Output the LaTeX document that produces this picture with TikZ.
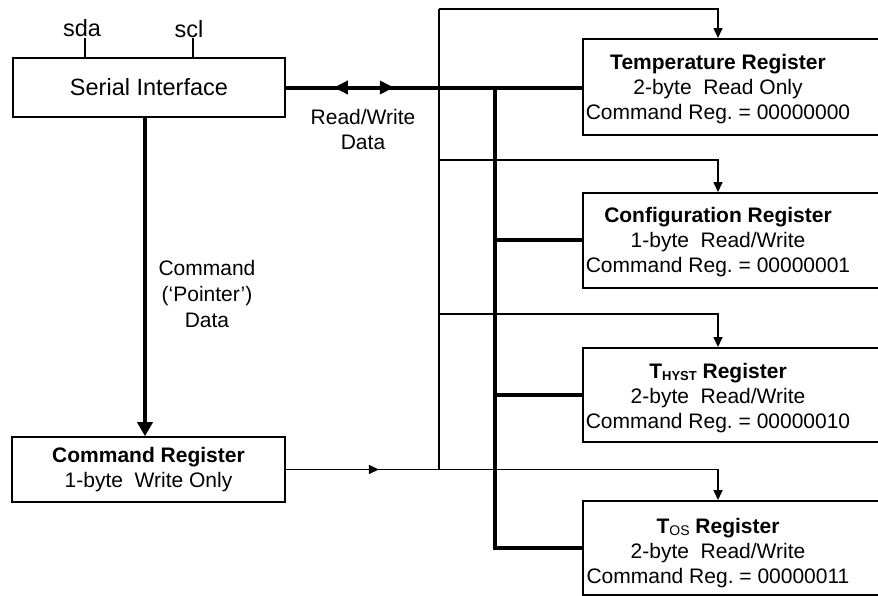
\documentclass[tikz,border=0pt]{standalone}
\usepackage{fontspec}
\setmainfont{Liberation Sans}
\usetikzlibrary{arrows.meta,decorations.markings,calc}
\begin{document}
\begin{tikzpicture}[x=1pt,y=-1pt,
  every node/.style={font=\fontsize{21}{25}\selectfont\frenchspacing, inner sep=0pt},
  bigfont/.style={font=\fontsize{23.5}{28}\selectfont},
  boxline/.style={draw=black, line width=1.6pt},
  thinline/.style={line width=1.6pt, line join=miter},
  thickline/.style={line width=4pt, line join=miter},
  thinhead/.style={-{Triangle[length=10pt,width=9pt]}},
  thickhead/.style={-{Triangle[length=14pt,width=15pt]}},
  regbox/.style={boxline, anchor=north west, minimum width=330pt},
  regtext/.style={align=center}
]
\useasboundingbox (0,0) rectangle (878,595);
\clip (0,0) rectangle (878,595);

% left boxes
\node[boxline, minimum width=272pt, minimum height=59pt, bigfont] (SI) at (149,87.5) {Serial Interface};
\node[boxline, minimum width=273pt, minimum height=65pt, align=center] (CR) at (148.5,469.5) {\textbf{Command Register}\\1-byte\ \ Write Only};

% register boxes
\node[regbox, minimum height=96pt] (tempbox) at (582,38) {};
\node[regbox, minimum height=95pt] (cfgbox) at (582,192) {};
\node[regbox, minimum height=94pt] (thystbox) at (582,347) {};
\node[regbox, minimum height=94pt] (tosbox) at (582,500) {};

\node[regtext] (temptext) at ([shift={(136,2)}]tempbox.west) {\textbf{Temperature Register}\\2-byte\ \ Read Only\\Command Reg. = 00000000};
\node[regtext] (cfgtext) at ([shift={(136,2)}]cfgbox.west) {\textbf{Configuration Register}\\1-byte\ \ Read/Write\\Command Reg. = 00000001};
\node[regtext] (thysttext) at ([shift={(136,3)}]thystbox.west) {\textbf{T\raisebox{-2.5pt}{\fontsize{13}{13}\selectfont HYST} Register}\\2-byte\ \ Read/Write\\Command Reg. = 00000010};
\node[regtext] (tostext) at ([shift={(136,5)}]tosbox.west) {\textbf{T}\raisebox{-2.5pt}{\fontsize{14}{14}\selectfont OS}\textbf{ Register}\\2-byte\ \ Read/Write\\Command Reg. = 00000011};

% pins
\node[bigfont] (sda) at (82,28.5) {sda};
\node[bigfont] (scl) at (189,29.5) {scl};
\coordinate (sdapin) at (85,38);
\coordinate (sclpin) at (193,38);
\draw[thinline] (sdapin) -- (sdapin |- SI.north);
\draw[thinline] (sclpin) -- (sclpin |- SI.north);

% labels
\node[align=center] (rwlabel) at (363,129) {Read/Write\\Data};
\node[align=center, font=\fontsize{21}{26}\selectfont] (cmdlabel) at (207,294) {Command\\(`Pointer')\\Data};

% bus coordinates
\coordinate (tbx) at (439,0);
\coordinate (kbx) at (495,0);
\coordinate (tbtop) at (439,9);
\coordinate (b1) at (439,160);
\coordinate (b2) at (439,314);

% serial data line with double arrow
\draw[thickline, postaction={decorate}, decoration={markings,
    mark=at position 48pt with {\arrowreversed{Triangle[length=14pt,width=13pt]}},
    mark=at position 108pt with {\arrow{Triangle[length=14pt,width=13pt]}}}]
  (SI.east) -- (SI.east -| tempbox.west);

% command data
\draw[thickline, thickhead] ([xshift=-4pt]SI.south) -- ([xshift=-4pt]SI.south |- CR.north);

% thick read/write bus
\draw[thickline] (kbx |- SI.east) -- (kbx |- tosbox.west) -- (tosbox.west);
\draw[thickline] (kbx |- cfgbox.west) -- (cfgbox.west);
\draw[thickline] (kbx |- thystbox.west) -- (thystbox.west);

% thin pointer bus
\draw[thinline] (tbtop) -- (tbx |- CR.east);
\draw[thinline, thinhead] (tbtop) -| ([xshift=136pt]tempbox.north west);
\draw[thinline, thinhead] (b1) -| ([xshift=136pt]cfgbox.north west);
\draw[thinline, thinhead] (b2) -| ([xshift=136pt]thystbox.north west);
\draw[thinline, thinhead, postaction={decorate}, decoration={markings,
    mark=at position 93pt with {\arrow{Triangle[length=10pt,width=9pt]}}}]
  (CR.east) -| ([xshift=136pt]tosbox.north west);
\end{tikzpicture}
\end{document}
